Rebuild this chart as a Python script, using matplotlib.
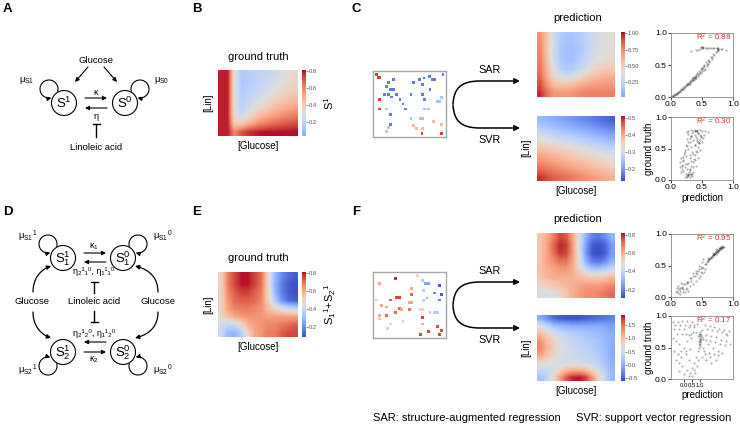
import numpy as np
import matplotlib
matplotlib.use('Agg')
import matplotlib.pyplot as plt
from matplotlib.patches import Circle, FancyArrowPatch
from matplotlib.path import Path
from matplotlib.colors import ListedColormap

plt.rcParams['font.family'] = ['Liberation Sans', 'DejaVu Sans']
plt.rcParams['mathtext.fontset'] = 'custom'
plt.rcParams['mathtext.rm'] = 'Liberation Sans'
plt.rcParams['mathtext.it'] = 'Liberation Sans:italic'
plt.rcParams['mathtext.bf'] = 'Liberation Sans:bold'

W, H = 740, 428

# --- heatmap values (rows top -> bottom, columns left -> right) ---
gt_B = [
    [0.78, 0.78, 0.30, 0.15, 0.16, 0.18, 0.20, 0.22, 0.25, 0.28, 0.30, 0.33],
    [0.78, 0.78, 0.30, 0.15, 0.16, 0.18, 0.21, 0.24, 0.27, 0.30, 0.33, 0.36],
    [0.78, 0.78, 0.30, 0.16, 0.18, 0.21, 0.24, 0.28, 0.31, 0.34, 0.37, 0.40],
    [0.78, 0.78, 0.30, 0.17, 0.20, 0.24, 0.28, 0.32, 0.36, 0.40, 0.43, 0.46],
    [0.78, 0.78, 0.30, 0.19, 0.24, 0.30, 0.35, 0.40, 0.44, 0.48, 0.50, 0.52],
    [0.78, 0.78, 0.32, 0.24, 0.32, 0.40, 0.46, 0.50, 0.54, 0.57, 0.60, 0.62],
    [0.78, 0.78, 0.40, 0.40, 0.48, 0.55, 0.60, 0.63, 0.66, 0.68, 0.70, 0.72],
    [0.78, 0.78, 0.60, 0.70, 0.75, 0.78, 0.80, 0.80, 0.80, 0.80, 0.80, 0.80],
]
gt_E = [
    [0.50, 0.68, 0.75, 0.80, 0.80, 0.76, 0.70, 0.50, 0.30, 0.20, 0.15, 0.12],
    [0.50, 0.68, 0.75, 0.80, 0.80, 0.76, 0.70, 0.50, 0.28, 0.18, 0.12, 0.10],
    [0.50, 0.66, 0.72, 0.76, 0.76, 0.72, 0.68, 0.50, 0.30, 0.18, 0.12, 0.10],
    [0.50, 0.64, 0.70, 0.72, 0.72, 0.70, 0.66, 0.52, 0.35, 0.22, 0.15, 0.12],
    [0.50, 0.62, 0.66, 0.68, 0.68, 0.66, 0.64, 0.56, 0.50, 0.45, 0.40, 0.38],
    [0.48, 0.55, 0.60, 0.62, 0.64, 0.64, 0.64, 0.62, 0.62, 0.62, 0.62, 0.62],
    [0.42, 0.38, 0.40, 0.48, 0.58, 0.62, 0.64, 0.66, 0.66, 0.68, 0.70, 0.72],
    [0.40, 0.30, 0.28, 0.35, 0.50, 0.60, 0.64, 0.68, 0.68, 0.72, 0.75, 0.75],
]
sar_C = [
    [0.72, 0.55, 0.34, 0.22, 0.17, 0.17, 0.20, 0.25, 0.31, 0.35, 0.38, 0.40],
    [0.74, 0.55, 0.32, 0.20, 0.15, 0.15, 0.18, 0.24, 0.30, 0.35, 0.38, 0.40],
    [0.76, 0.56, 0.32, 0.19, 0.14, 0.14, 0.18, 0.24, 0.31, 0.36, 0.39, 0.41],
    [0.78, 0.58, 0.34, 0.20, 0.15, 0.15, 0.20, 0.27, 0.34, 0.39, 0.42, 0.44],
    [0.80, 0.60, 0.38, 0.24, 0.19, 0.20, 0.26, 0.34, 0.42, 0.47, 0.50, 0.51],
    [0.84, 0.65, 0.46, 0.36, 0.33, 0.36, 0.42, 0.50, 0.56, 0.59, 0.61, 0.62],
    [0.90, 0.72, 0.60, 0.55, 0.55, 0.58, 0.62, 0.66, 0.68, 0.69, 0.70, 0.70],
    [0.97, 0.82, 0.72, 0.70, 0.70, 0.72, 0.74, 0.76, 0.77, 0.77, 0.77, 0.77],
]
svr_C = [
    [0.24, 0.23, 0.22, 0.21, 0.20, 0.19, 0.18, 0.17, 0.16, 0.15],
    [0.27, 0.26, 0.25, 0.24, 0.23, 0.22, 0.21, 0.20, 0.19, 0.18],
    [0.31, 0.30, 0.29, 0.28, 0.27, 0.26, 0.25, 0.24, 0.23, 0.22],
    [0.35, 0.34, 0.33, 0.32, 0.31, 0.30, 0.29, 0.28, 0.27, 0.26],
    [0.39, 0.38, 0.37, 0.36, 0.35, 0.34, 0.33, 0.32, 0.31, 0.30],
    [0.42, 0.41, 0.40, 0.39, 0.38, 0.37, 0.36, 0.35, 0.34, 0.33],
    [0.45, 0.44, 0.43, 0.42, 0.41, 0.40, 0.39, 0.38, 0.37, 0.36],
    [0.49, 0.47, 0.46, 0.45, 0.44, 0.43, 0.42, 0.41, 0.40, 0.39],
]
sar_F = [
    [0.55, 0.60, 0.68, 0.76, 0.74, 0.62, 0.45, 0.30, 0.20, 0.18, 0.22, 0.30],
    [0.55, 0.62, 0.72, 0.80, 0.78, 0.64, 0.45, 0.25, 0.14, 0.12, 0.15, 0.25],
    [0.55, 0.62, 0.70, 0.78, 0.76, 0.64, 0.46, 0.25, 0.13, 0.11, 0.14, 0.25],
    [0.56, 0.62, 0.66, 0.70, 0.70, 0.62, 0.48, 0.30, 0.20, 0.18, 0.22, 0.30],
    [0.56, 0.60, 0.62, 0.64, 0.64, 0.60, 0.52, 0.42, 0.36, 0.35, 0.38, 0.42],
    [0.55, 0.58, 0.60, 0.60, 0.60, 0.60, 0.58, 0.56, 0.55, 0.55, 0.56, 0.58],
    [0.50, 0.52, 0.54, 0.56, 0.58, 0.60, 0.62, 0.64, 0.64, 0.64, 0.66, 0.68],
    [0.45, 0.44, 0.46, 0.50, 0.55, 0.60, 0.64, 0.66, 0.66, 0.68, 0.70, 0.72],
]
svr_F = [
    [0.00, -0.20, -0.40, -0.50, -0.55, -0.55, -0.55, -0.50, -0.45, -0.40, -0.35, -0.30],
    [0.60, 0.40, 0.20, 0.10, 0.05, 0.00, 0.00, 0.00, 0.00, 0.00, -0.05, -0.10],
    [1.00, 0.80, 0.60, 0.45, 0.35, 0.30, 0.25, 0.20, 0.15, 0.10, 0.05, 0.00],
    [1.30, 1.05, 0.80, 0.60, 0.50, 0.42, 0.35, 0.30, 0.25, 0.20, 0.10, 0.00],
    [1.35, 1.10, 0.85, 0.65, 0.55, 0.48, 0.42, 0.35, 0.30, 0.22, 0.12, 0.00],
    [1.20, 1.00, 0.80, 0.62, 0.55, 0.50, 0.45, 0.40, 0.35, 0.28, 0.15, 0.00],
    [0.80, 0.70, 0.60, 0.55, 0.55, 0.55, 0.52, 0.48, 0.42, 0.35, 0.20, 0.05],
    [0.40, 0.45, 0.55, 0.80, 1.00, 1.10, 1.10, 1.00, 0.80, 0.55, 0.30, 0.10],
    [0.20, 0.35, 0.70, 1.20, 1.60, 1.80, 1.85, 1.70, 1.30, 0.80, 0.40, 0.10],
]

# colour limits
lim_B = (0.035, 0.81)
lim_E = (0.09, 0.81)
lim_sarC = (0.02, 1.02)
lim_svrC = (0.13, 0.51)
lim_sarF = (0.11, 0.82)
lim_svrF = (-0.61, 1.88)

# --- training samples (x, y from top, value) ---
samp_C_x = [0.05, 0.07, 0.09, 0.28, 0.21, 0.18, 0.24, 0.28, 0.16, 0.21, 0.25, 0.32, 0.37, 0.09,
            0.41, 0.09, 0.18, 0.44, 0.24, 0.24, 0.21, 0.18, 0.56, 0.64, 0.68, 0.70, 0.77, 0.81,
            0.84, 0.96, 0.52, 0.68, 0.78, 0.71, 0.88, 0.91, 0.94, 0.71, 0.76, 0.52, 0.65, 0.68,
            0.55, 0.60, 0.68, 0.67, 0.83, 0.94, 0.94]
samp_C_y = [0.04, 0.08, 0.08, 0.12, 0.16, 0.23, 0.27, 0.27, 0.35, 0.35, 0.39, 0.35, 0.43, 0.43,
            0.50, 0.58, 0.58, 0.58, 0.66, 0.82, 0.87, 0.93, 0.16, 0.12, 0.19, 0.09, 0.07, 0.12,
            0.12, 0.04, 0.35, 0.35, 0.27, 0.43, 0.46, 0.46, 0.40, 0.58, 0.58, 0.73, 0.73, 0.73,
            0.84, 0.89, 0.89, 0.97, 0.77, 0.82, 0.97]
samp_C_v = [0.75, 0.75, 0.75, 0.12, 0.12, 0.12, 0.12, 0.12, 0.12, 0.12, 0.12, 0.12, 0.12, 0.75,
            0.12, 0.75, 0.30, 0.12, 0.12, 0.12, 0.30, 0.55, 0.12, 0.12, 0.12, 0.12, 0.12, 0.12,
            0.12, 0.12, 0.12, 0.12, 0.12, 0.12, 0.28, 0.28, 0.28, 0.28, 0.28, 0.28, 0.28, 0.28,
            0.55, 0.55, 0.55, 0.75, 0.55, 0.55, 0.75]

samp_F_x = [0.61, 0.31, 0.09, 0.68, 0.72, 0.76, 0.91, 0.53, 0.69, 0.84, 0.94, 0.53, 0.32, 0.36,
            0.24, 0.05, 0.50, 0.53, 0.69, 0.74, 0.91, 0.12, 0.18, 0.36, 0.39, 0.50, 0.65, 0.68,
            0.78, 0.84, 0.88, 0.09, 0.18, 0.31, 0.09, 0.41, 0.68, 0.24, 0.20, 0.68, 0.88, 0.94,
            0.76, 0.65, 0.91]
samp_F_y = [0.04, 0.08, 0.16, 0.12, 0.16, 0.16, 0.19, 0.24, 0.27, 0.31, 0.34, 0.34, 0.38, 0.38,
            0.42, 0.42, 0.46, 0.46, 0.43, 0.39, 0.42, 0.51, 0.53, 0.55, 0.57, 0.57, 0.57, 0.57,
            0.62, 0.62, 0.62, 0.66, 0.66, 0.62, 0.72, 0.76, 0.70, 0.80, 0.87, 0.80, 0.84, 0.90,
            0.92, 0.96, 0.96]
samp_F_v = [0.50, 0.78, 0.60, 0.35, 0.25, 0.25, 0.12, 0.60, 0.35, 0.20, 0.12, 0.70, 0.75, 0.75,
            0.72, 0.50, 0.60, 0.62, 0.38, 0.28, 0.18, 0.60, 0.60, 0.72, 0.60, 0.70, 0.50, 0.50,
            0.35, 0.35, 0.35, 0.60, 0.70, 0.70, 0.55, 0.50, 0.75, 0.50, 0.38, 0.60, 0.75, 0.75,
            0.75, 0.75, 0.75]

# --- prediction vs ground truth ---
pc_sar_pred = [0.02, 0.04, 0.05, 0.07, 0.08, 0.10, 0.12, 0.14, 0.16, 0.18, 0.20, 0.22, 0.24, 0.26,
               0.28, 0.30, 0.32, 0.34, 0.36, 0.38, 0.40, 0.42, 0.45, 0.48, 0.50, 0.53, 0.56, 0.60,
               0.64, 0.68, 0.72, 0.75, 0.45, 0.50, 0.55, 0.58, 0.40, 0.62, 0.30, 0.35, 0.52, 0.66,
               0.33, 0.40, 0.46, 0.52, 0.58, 0.64, 0.70, 0.76, 0.82, 0.88,
               0.03, 0.06, 0.09, 0.11, 0.13, 0.15, 0.17, 0.19, 0.21, 0.23, 0.25, 0.27, 0.29, 0.31,
               0.33, 0.35, 0.37, 0.39, 0.41, 0.44, 0.47, 0.50, 0.54, 0.58, 0.62, 0.66, 0.70, 0.74,
               0.48, 0.53, 0.60, 0.43, 0.38, 0.36, 0.44, 0.50, 0.56, 0.62, 0.68, 0.74, 0.80, 0.50,
               0.49, 0.51, 0.75, 0.76, 0.74]
pc_sar_gt = [0.01, 0.02, 0.03, 0.04, 0.05, 0.07, 0.08, 0.10, 0.12, 0.13, 0.15, 0.17, 0.19, 0.20,
             0.22, 0.24, 0.26, 0.28, 0.30, 0.32, 0.34, 0.37, 0.40, 0.43, 0.46, 0.50, 0.54, 0.58,
             0.63, 0.67, 0.71, 0.74, 0.36, 0.40, 0.44, 0.48, 0.30, 0.55, 0.20, 0.27, 0.47, 0.60,
             0.72, 0.74, 0.75, 0.77, 0.77, 0.77, 0.76, 0.76, 0.75, 0.74,
             0.02, 0.03, 0.05, 0.06, 0.08, 0.09, 0.11, 0.13, 0.14, 0.16, 0.18, 0.20, 0.21, 0.23,
             0.25, 0.27, 0.29, 0.31, 0.33, 0.36, 0.39, 0.44, 0.48, 0.52, 0.57, 0.62, 0.66, 0.72,
             0.38, 0.42, 0.52, 0.33, 0.28, 0.31, 0.74, 0.76, 0.77, 0.77, 0.76, 0.76, 0.75, 0.78,
             0.78, 0.78, 0.75, 0.74, 0.76]
pc_svr_pred = [0.22, 0.26, 0.30, 0.34, 0.24, 0.28, 0.32, 0.36, 0.20, 0.25, 0.30, 0.35, 0.40, 0.18,
               0.22, 0.27, 0.33, 0.38, 0.43, 0.20, 0.24, 0.30, 0.36, 0.42, 0.46, 0.22, 0.27, 0.33,
               0.39, 0.45, 0.24, 0.30, 0.36, 0.42, 0.48, 0.26, 0.32, 0.38, 0.44, 0.28, 0.28, 0.33,
               0.38, 0.42, 0.46, 0.50, 0.55, 0.60, 0.25,
               0.16, 0.17, 0.18, 0.19, 0.20, 0.21, 0.23, 0.25, 0.27, 0.30, 0.32, 0.34, 0.36, 0.38,
               0.40, 0.42, 0.44, 0.46, 0.48, 0.27, 0.29, 0.31, 0.33, 0.35, 0.37, 0.39, 0.41, 0.43,
               0.45, 0.47, 0.25, 0.28, 0.31, 0.34, 0.22, 0.26, 0.30, 0.34, 0.38, 0.42, 0.40, 0.44,
               0.14, 0.15, 0.16, 0.50, 0.52, 0.54]
pc_svr_gt = [0.05, 0.04, 0.05, 0.06, 0.10, 0.10, 0.10, 0.12, 0.15, 0.18, 0.16, 0.20, 0.22, 0.22,
             0.25, 0.27, 0.30, 0.32, 0.35, 0.32, 0.38, 0.40, 0.42, 0.45, 0.48, 0.45, 0.50, 0.52,
             0.55, 0.58, 0.55, 0.60, 0.63, 0.65, 0.68, 0.65, 0.70, 0.72, 0.74, 0.73, 0.78, 0.79,
             0.79, 0.79, 0.79, 0.78, 0.77, 0.76, 0.76,
             0.12, 0.18, 0.24, 0.30, 0.36, 0.42, 0.48, 0.54, 0.60, 0.66, 0.70, 0.74, 0.77, 0.78,
             0.78, 0.77, 0.75, 0.72, 0.70, 0.08, 0.12, 0.17, 0.22, 0.28, 0.34, 0.40, 0.46, 0.52,
             0.58, 0.64, 0.07, 0.08, 0.09, 0.10, 0.20, 0.26, 0.35, 0.45, 0.55, 0.62, 0.68, 0.60,
             0.20, 0.28, 0.35, 0.60, 0.66, 0.72]
pf_sar_pred = [0.10, 0.15, 0.20, 0.25, 0.30, 0.35, 0.40, 0.45, 0.50, 0.55, 0.60, 0.63, 0.66, 0.70,
               0.73, 0.76, 0.79, 0.82, 0.85, 0.62, 0.65, 0.68, 0.71, 0.74, 0.77, 0.80, 0.58, 0.60,
               0.67, 0.72, 0.08, 0.12, 0.10, 0.15, 0.20, 0.18, 0.25, 0.30, 0.22, 0.28, 0.35, 0.40,
               0.45, 0.48, 0.50, 0.45, 0.55, 0.52, 0.40, 0.35,
               0.60, 0.62, 0.64, 0.66, 0.68, 0.70, 0.72, 0.74, 0.76, 0.78, 0.80, 0.82, 0.84, 0.69,
               0.71, 0.73, 0.75, 0.77, 0.79, 0.81, 0.83, 0.56, 0.52, 0.48, 0.44, 0.42, 0.38, 0.33,
               0.27, 0.23, 0.17, 0.13, 0.12, 0.16, 0.20, 0.24, 0.14, 0.26, 0.32, 0.46, 0.50, 0.54]
pf_sar_gt = [0.10, 0.14, 0.20, 0.24, 0.30, 0.34, 0.38, 0.44, 0.48, 0.53, 0.58, 0.62, 0.65, 0.68,
             0.71, 0.74, 0.77, 0.79, 0.80, 0.60, 0.63, 0.66, 0.70, 0.73, 0.75, 0.78, 0.56, 0.62,
             0.70, 0.76, 0.08, 0.06, 0.14, 0.10, 0.12, 0.16, 0.15, 0.18, 0.08, 0.10, 0.20, 0.25,
             0.30, 0.40, 0.55, 0.50, 0.45, 0.60, 0.42, 0.38,
             0.57, 0.60, 0.62, 0.64, 0.66, 0.67, 0.69, 0.71, 0.72, 0.74, 0.76, 0.78, 0.79, 0.68,
             0.70, 0.73, 0.75, 0.77, 0.78, 0.80, 0.81, 0.52, 0.46, 0.46, 0.42, 0.36, 0.34, 0.30,
             0.24, 0.20, 0.14, 0.12, 0.18, 0.22, 0.08, 0.12, 0.04, 0.22, 0.26, 0.34, 0.38, 0.40]
pf_svr_pred = [-0.7, -0.4, -0.1, 0.2, 0.5, 0.8, -0.6, -0.3, 0.0, 0.3, 0.6,
               -0.7, -0.5, -0.3, -0.6, -0.4, -0.2, -0.5, -0.3, -0.1, 0.0, 0.2, 0.1, 0.3,
               -0.3, 0.0, 0.3, 0.5, 0.7, 0.8, 0.9, 0.6, 0.4,
               0.95, 1.0, 1.0, 1.05, 0.95, 1.0, 1.05, 0.9, 1.0, 1.1,
               1.3, 1.6, 1.9, 2.2, 2.5, 2.8, 1.4, 1.7, 2.0, 2.3, 2.6, 2.9, 1.5, 1.8, 2.1,
               2.4, 1.3, 1.6, 2.0, 1.2, 2.7,
               -0.55, -0.25, 0.05, 0.35, 0.65, -0.45, -0.15, 0.15, 0.45, 0.75, -0.2, 0.1, 0.4,
               0.2, 0.5, 0.6, 0.75, 0.85, 0.92, 0.98, 1.02, 0.97, 1.03, 0.96, 1.0, 1.15, 1.2,
               1.45, 1.75, 2.05, 2.35, 2.65, 1.35, 1.65, 1.95, 2.25, 2.55, 1.25, 1.55, 1.85,
               2.15, 1.1, 1.4, 1.7, 0.3, 0.45, 0.55]
pf_svr_gt = [0.90, 0.90, 0.92, 0.92, 0.90, 0.88, 0.80, 0.80, 0.80, 0.82, 0.82,
             0.65, 0.60, 0.55, 0.45, 0.40, 0.35, 0.30, 0.25, 0.20, 0.50, 0.60, 0.40, 0.30,
             0.12, 0.08, 0.05, 0.04, 0.10, 0.20, 0.30, 0.15, 0.10,
             0.55, 0.60, 0.65, 0.70, 0.72, 0.75, 0.62, 0.68, 0.58, 0.66,
             0.85, 0.84, 0.82, 0.80, 0.78, 0.76, 0.70, 0.68, 0.66, 0.62, 0.60, 0.55, 0.55, 0.50, 0.45,
             0.42, 0.40, 0.35, 0.30, 0.50, 0.70,
             0.86, 0.86, 0.86, 0.86, 0.85, 0.72, 0.72, 0.72, 0.72, 0.74, 0.45, 0.45, 0.48,
             0.15, 0.18, 0.25, 0.35, 0.45, 0.50, 0.52, 0.56, 0.64, 0.68, 0.60, 0.72, 0.78, 0.64,
             0.80, 0.78, 0.76, 0.74, 0.72, 0.62, 0.60, 0.58, 0.56, 0.54, 0.45, 0.42, 0.40,
             0.38, 0.35, 0.30, 0.25, 0.70, 0.65, 0.75]

r2_values = ['0.88', '0.30', '0.95', '0.17']


def rect(x0, y0, x1, y1):
    return [x0 / W, 1 - y1 / H, (x1 - x0) / W, (y1 - y0) / H]


def part_cmap(lo):
    # upper part of coolwarm, used where the colorbar starts at light blue
    return ListedColormap(plt.cm.coolwarm(np.linspace(lo, 1.0, 256)))


cmap_full = plt.cm.coolwarm
cmap_B = part_cmap(0.24)
cmap_C = part_cmap(0.22)

fig = plt.figure(figsize=(7.4, 4.28), dpi=100)

# full-figure axes in pixel units for the diagrams and free text
ov = fig.add_axes([0, 0, 1, 1])
ov.set_xlim(0, W)
ov.set_ylim(H, 0)
ov.axis('off')


def arrow(p0, p1, lw=0.8, ms=6):
    ov.annotate('', xy=p1, xytext=p0,
                arrowprops=dict(arrowstyle='-|>', lw=lw, color='k', mutation_scale=ms,
                                shrinkA=0, shrinkB=0))


def curve_arrow(pts, lw=0.9, ms=6, tail=None):
    codes = [Path.MOVETO, Path.CURVE4, Path.CURVE4, Path.CURVE4]
    if tail is not None:
        pts = list(pts) + [tail]
        codes.append(Path.LINETO)
    path = Path(pts, codes)
    ov.add_patch(FancyArrowPatch(path=path, arrowstyle='-|>', lw=lw, color='k',
                                 mutation_scale=ms))


def loop_arrow(cx, cy, r, t_start, t_end, lw=0.8, ms=6):
    # self-loop drawn as a circular arc (angles in screen sense, y pointing down)
    arc = Path.arc(min(t_start, t_end), max(t_start, t_end))
    verts = arc.vertices.copy()
    codes = arc.codes.copy()
    if t_start > t_end:
        verts = verts[::-1]
    verts = np.column_stack([cx + r * verts[:, 0], cy + r * verts[:, 1]])
    ov.add_patch(FancyArrowPatch(path=Path(verts, codes), arrowstyle='-|>', lw=lw,
                                 color='k', mutation_scale=ms))


def node(cx, cy, label):
    ov.add_patch(Circle((cx, cy), 12.5, fill=False, lw=0.8, ec='k'))
    ov.text(cx, cy + 0.5, label, ha='center', va='center', fontsize=9.5)


def inhibit(x, y_from, y_to):
    ov.plot([x, x], [y_from, y_to], color='k', lw=1.0)
    ov.plot([x - 3.5, x + 3.5], [y_to, y_to], color='k', lw=1.0)


# panel letters
for lab, x, y in [('A', 3, 9), ('B', 192, 9), ('C', 352, 9),
                  ('D', 3, 212), ('E', 192, 212), ('F', 352, 212)]:
    ov.text(x, y, lab, fontsize=9.5, fontweight='bold', va='center', ha='left')

# ---------------- panel A ----------------
ov.text(96, 60, 'Glucose', ha='center', va='center', fontsize=6.8)
arrow((88, 67), (75, 82))
arrow((104, 67), (117, 82))
node(64, 103, r'$\mathregular{S^1}$')
node(125, 103, r'$\mathregular{S^0}$')
ov.text(96, 92, 'κ', ha='center', va='center', fontsize=6.5)
arrow((85, 98), (107, 98))
arrow((107, 108), (85, 108))
ov.text(96, 116, 'η', ha='center', va='center', fontsize=6.5)
inhibit(96, 137, 124)
ov.text(96, 147, 'Linoleic acid', ha='center', va='center', fontsize=6.8)
loop_arrow(49, 89, 9, 15, -285)
loop_arrow(140, 89, 9, 165, 465)
ov.text(27, 80, r'$\mathregular{\mu_{S1}}$', ha='center', va='center', fontsize=6.8)
ov.text(162, 80, r'$\mathregular{\mu_{S0}}$', ha='center', va='center', fontsize=6.8)

# ---------------- panel D ----------------
node(63, 258, r'$\mathregular{S_1^1}$')
node(123, 258, r'$\mathregular{S_1^0}$')
node(63, 352, r'$\mathregular{S_2^1}$')
node(123, 352, r'$\mathregular{S_2^0}$')
ov.text(94, 247, r'$\mathregular{\kappa_1}$', ha='center', va='center', fontsize=6.5)
arrow((84, 253), (106, 253))
arrow((106, 262), (84, 262))
ov.text(94, 272, 'η₂¹₁⁰, η₁¹₁⁰', ha='center', va='center', fontsize=6.5)
inhibit(94, 293, 282)
ov.text(32, 302, 'Glucose', ha='center', va='center', fontsize=6.8)
ov.text(94, 302, 'Linoleic acid', ha='center', va='center', fontsize=6.8)
ov.text(158, 302, 'Glucose', ha='center', va='center', fontsize=6.8)
inhibit(94, 311, 322)
ov.text(94, 333, 'η₂¹₂⁰, η₁¹₂⁰', ha='center', va='center', fontsize=6.5)
arrow((106, 342), (84, 342))
arrow((84, 352), (106, 352))
ov.text(94, 360, r'$\mathregular{\kappa_2}$', ha='center', va='center', fontsize=6.5)
curve_arrow([(33, 292), (33, 279), (40, 270), (51, 266)])
curve_arrow([(33, 312), (33, 325), (40, 334), (51, 338)])
curve_arrow([(158, 292), (158, 279), (151, 270), (135, 266)])
curve_arrow([(158, 312), (158, 325), (151, 334), (135, 338)])
loop_arrow(48, 244, 9, 15, -285)
loop_arrow(138, 244, 9, 165, 465)
loop_arrow(48, 366, 9, -15, 285)
loop_arrow(138, 366, 9, 195, -105)
ov.text(28, 236, r'$\mathregular{\mu_{S1}{}^1}$', ha='center', va='center', fontsize=6.8)
ov.text(163, 236, r'$\mathregular{\mu_{S1}{}^0}$', ha='center', va='center', fontsize=6.8)
ov.text(28, 370, r'$\mathregular{\mu_{S2}{}^1}$', ha='center', va='center', fontsize=6.8)
ov.text(163, 370, r'$\mathregular{\mu_{S2}{}^0}$', ha='center', va='center', fontsize=6.8)


# ---------------- heatmaps ----------------
def heatmap(box, cbox, data, lim, cmap, ticks, fmt, cblabel=None, lin=None, glu=None):
    ax = fig.add_axes(rect(*box))
    im = ax.imshow(np.array(data), cmap=cmap, vmin=lim[0], vmax=lim[1],
                   aspect='auto', interpolation='bilinear')
    ax.set_xticks([])
    ax.set_yticks([])
    for s in ax.spines.values():
        s.set_visible(False)
    cax = fig.add_axes(rect(*cbox))
    cb = fig.colorbar(im, cax=cax, ticks=ticks)
    cb.outline.set_visible(False)
    cb.ax.set_yticklabels([fmt % t for t in ticks])
    cax.tick_params(labelsize=4.2, length=1.5, width=0.5, colors='#555555', pad=0.8)
    if cblabel:
        cax.set_ylabel(cblabel, fontsize=8, labelpad=4)
    if lin:
        ov.text(lin[0], lin[1], '[Lin]', rotation=90, ha='center', va='center', fontsize=7)
    if glu:
        ov.text(glu[0], glu[1], '[Glucose]', ha='center', va='center', fontsize=7)
    return ax


heatmap((218, 70, 298, 136), (302, 70, 305.5, 136), gt_B, lim_B, cmap_B,
        [0.2, 0.4, 0.6, 0.8], '%.1f', r'$\mathregular{S^1}$', (208, 103), (258, 146))
ov.text(258, 57, 'ground truth', ha='center', va='center', fontsize=8)
heatmap((218, 272, 298, 337), (302, 272, 305.5, 337), gt_E, lim_E, cmap_full,
        [0.2, 0.4, 0.6, 0.8], '%.1f', r'$\mathregular{S_1{}^1{+}S_2{}^1}$', (208, 305), (258, 347))
ov.text(258, 258, 'ground truth', ha='center', va='center', fontsize=8)

heatmap((537, 32, 615, 97), (621, 32, 624.5, 97), sar_C, lim_sarC, cmap_C,
        [0.25, 0.5, 0.75, 1.0], '%.2f')
heatmap((537, 116, 615, 181), (621, 116, 624.5, 181), svr_C, lim_svrC, cmap_full,
        [0.2, 0.3, 0.4, 0.5], '%.1f', None, (526, 148), (576, 191))
ov.text(578, 18, 'prediction', ha='center', va='center', fontsize=8)
heatmap((537, 233, 615, 298), (621, 233, 624.5, 298), sar_F, lim_sarF, cmap_full,
        [0.2, 0.4, 0.6, 0.8], '%.1f')
heatmap((537, 315, 615, 381), (621, 315, 624.5, 381), svr_F, lim_svrF, cmap_full,
        [-0.5, 0.0, 0.5, 1.0, 1.5], '%.1f', None, (526, 348), (576, 391))
ov.text(578, 219, 'prediction', ha='center', va='center', fontsize=8)


# ---------------- training samples ----------------
def samples(box, xs, ys, vs, lim, cmap):
    ax = fig.add_axes(rect(*box))
    ax.scatter(xs, ys, c=vs, cmap=cmap, vmin=lim[0], vmax=lim[1], marker='s', s=4,
               linewidths=0)
    ax.set_xlim(0, 1)
    ax.set_ylim(1.02, -0.02)
    ax.set_xticks([])
    ax.set_yticks([])
    for s in ax.spines.values():
        s.set_color('#a8a8a8')
        s.set_linewidth(1.0)


samples((373, 71, 446, 137), samp_C_x, samp_C_y, samp_C_v, lim_B, cmap_full)
samples((373, 272, 446, 338), samp_F_x, samp_F_y, samp_F_v, lim_E, cmap_full)

# SAR / SVR curved arrows
for yc, yu, yl in [(104, 81, 128), (305, 282, 328)]:
    curve_arrow([(453, yc), (454, yu + 8), (460, yu), (480, yu)], lw=1.1, ms=8,
                tail=(520, yu))
    curve_arrow([(453, yc + 1), (454, yl - 8), (460, yl), (480, yl)], lw=1.1, ms=8,
                tail=(520, yl))
    ov.text(490, yu - 11, 'SAR', ha='center', va='center', fontsize=7.8)
    ov.text(490, yl + 12, 'SVR', ha='center', va='center', fontsize=7.8)


# ---------------- prediction vs ground truth ----------------
def pg(box, px, gy, r2, xlim=(0, 1), xlab=False, ylab=False, tsize=6):
    ax = fig.add_axes(rect(*box))
    ax.scatter(px, gy, s=2.5, color='k', alpha=0.3, linewidths=0)
    ax.set_xlim(*xlim)
    ax.set_ylim(0, 1)
    ax.set_xticks([0, 0.5, 1.0])
    ax.set_yticks([0, 0.5, 1.0])
    ax.tick_params(labelsize=6, length=2, width=0.5, pad=1)
    ax.tick_params(axis='x', labelsize=tsize)
    for s in ax.spines.values():
        s.set_color('#888888')
        s.set_linewidth(0.6)
    ax.text(0.97, 0.93, r'$\mathregular{R^2}$ = ' + r2, transform=ax.transAxes,
            ha='right', va='center', fontsize=5.8, color='#c8392b')
    if xlab:
        ax.set_xlabel('prediction', fontsize=7, labelpad=1)
    if ylab:
        ax.set_ylabel('ground truth', fontsize=7, labelpad=1)


pg((671, 33, 733, 97), pc_sar_pred, pc_sar_gt, r2_values[0])
pg((671, 117, 733, 180), pc_svr_pred, pc_svr_gt, r2_values[1], xlab=True, ylab=True)
pg((671, 234, 733, 297), pf_sar_pred, pf_sar_gt, r2_values[2])
pg((671, 316, 733, 379), pf_svr_pred, pf_svr_gt, r2_values[3], xlim=(-0.81, 3.06),
   xlab=True, ylab=True, tsize=4.3)

ov.text(373, 418, 'SAR: structure-augmented regression', ha='left', va='center', fontsize=8)
ov.text(576, 418, 'SVR: support vector regression', ha='left', va='center', fontsize=8)

fig.savefig('out.png', dpi=100)
